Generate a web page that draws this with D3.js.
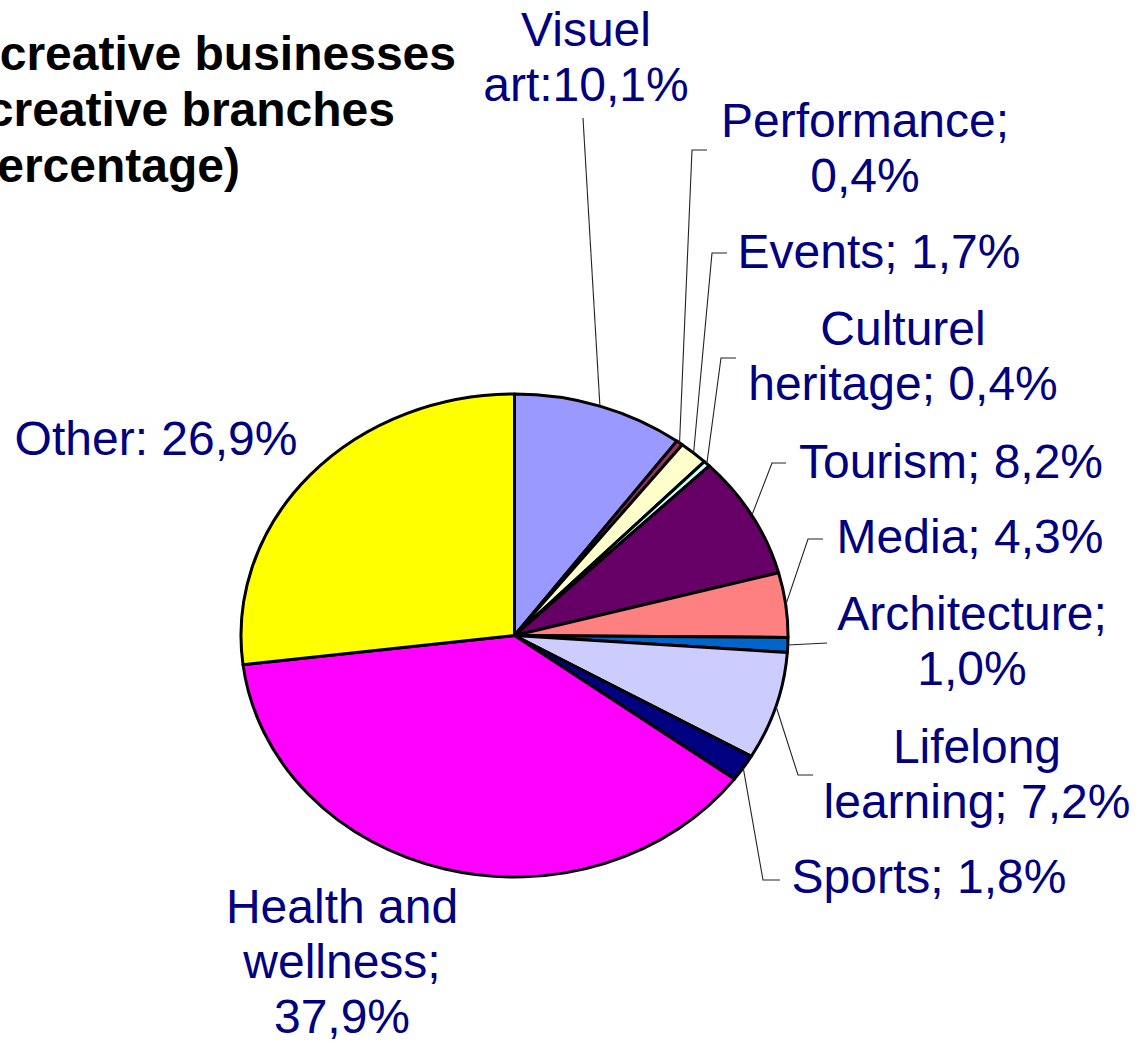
<!DOCTYPE html>
<html>
<head>
<meta charset="utf-8">
<script src="https://cdn.jsdelivr.net/npm/d3@7"></script>
<style>
  html, body { margin: 0; padding: 0; background: #fff; }
  svg { display: block; }
</style>
</head>
<body>
<svg id="chart" width="1140" height="1043"></svg>
<script>
// Creative branches and their share of creative businesses (%)
const categories = [
  "Visuel art", "Performance", "Events", "Culturel heritage", "Tourism",
  "Media", "Architecture", "Lifelong learning", "Sports",
  "Health and wellness", "Other"
];
const shares = [10.1, 0.4, 1.7, 0.4, 8.2, 4.3, 1.0, 7.2, 1.8, 37.9, 26.9];
const sliceColors = [
  "#9999FF", "#993366", "#FFFFCC", "#CCFFFF", "#660066",
  "#FF8080", "#0066CC", "#CCCCFF", "#000080", "#FF00FF", "#FFFF00"
];
// Label text per slice; {v} is replaced by the formatted share
const labelTemplates = [
  ["Visuel", "art:{v}"],
  ["Performance;", "{v}"],
  ["Events; {v}"],
  ["Culturel", "heritage; {v}"],
  ["Tourism; {v}"],
  ["Media; {v}"],
  ["Architecture;", "{v}"],
  ["Lifelong", "learning; {v}"],
  ["Sports; {v}"],
  ["Health and", "wellness;", "{v}"],
  ["Other: {v}"]
];
const titleLines = ["creative businesses", "creative branches", "(percentage)"];

// Layout: label centre x, first baseline y, and leader-line bends
const labelLayout = [
  { x: 586, y: 46,  leader: [[583, 118]] },
  { x: 865, y: 137, leader: [[692, 150], [707, 150]] },
  { x: 879, y: 268, leader: [[712, 253], [727, 253]] },
  { x: 903, y: 345, leader: [[721, 358], [736, 358]] },
  { x: 951, y: 478, leader: [[772, 463], [786, 463]] },
  { x: 970, y: 553, leader: [[808, 539], [823, 539]] },
  { x: 972, y: 630, leader: [[827, 643]] },
  { x: 977, y: 763, leader: [[798, 775], [813, 775]] },
  { x: 929, y: 893, leader: [[763, 880], [780, 880]] },
  { x: 342, y: 923, leader: null },
  { x: 156, y: 455, leader: null }
];
const titleRightEdges = [456, 395, 240];

const svg = d3.select("#chart");
const cx = 514.5, cy = 635.5, rx = 273.5, ry = 241.5;
const lineHeight = 55;
const fontFamily = "'Liberation Sans', Arial, Helvetica, sans-serif";

// Unit-circle coordinates mapped onto the elliptical pie
const sx = d3.scaleLinear().domain([-1, 1]).range([cx - rx, cx + rx]);
const sy = d3.scaleLinear().domain([-1, 1]).range([cy - ry, cy + ry]);
const pt = a => [sx(Math.sin(a)), sy(-Math.cos(a))];

const fmt = v => d3.format(".1f")(v).replace(".", ",") + "%";

const data = categories.map((c, i) => ({ name: c, value: shares[i], i }));
const arcs = d3.pie().sort(null).value(d => d.value)(data);

function slicePath(a) {
  const p0 = pt(a.startAngle), p1 = pt(a.endAngle);
  const large = (a.endAngle - a.startAngle) > Math.PI ? 1 : 0;
  return `M${cx},${cy}L${p0[0]},${p0[1]}A${rx},${ry} 0 ${large} 1 ${p1[0]},${p1[1]}Z`;
}

// Title (runs off the left edge)
svg.append("g")
  .selectAll("text")
  .data(titleLines)
  .join("text")
  .attr("x", (d, i) => titleRightEdges[i])
  .attr("y", (d, i) => 70 + i * 56)
  .attr("text-anchor", "end")
  .attr("font-family", fontFamily)
  .attr("font-weight", "bold")
  .attr("font-size", 48)
  .attr("fill", "#000")
  .text(d => d);

// Slices
svg.append("g")
  .selectAll("path")
  .data(arcs)
  .join("path")
  .attr("d", slicePath)
  .attr("fill", d => sliceColors[d.data.i])
  .attr("stroke", "#000")
  .attr("stroke-width", 3)
  .attr("stroke-linejoin", "round");

// Leader lines from the slice edge at its mid angle
const lineGen = d3.line();
svg.append("g")
  .selectAll("path")
  .data(arcs.filter(a => labelLayout[a.data.i].leader))
  .join("path")
  .attr("d", a => {
    const mid = (a.startAngle + a.endAngle) / 2;
    return lineGen([pt(mid), ...labelLayout[a.data.i].leader]);
  })
  .attr("fill", "none")
  .attr("stroke", "#222")
  .attr("stroke-width", 1.1);

// Labels
const labels = svg.append("g")
  .selectAll("text")
  .data(arcs)
  .join("text")
  .attr("text-anchor", "middle")
  .attr("font-family", fontFamily)
  .attr("font-size", 48)
  .attr("fill", "#000080");

labels.each(function (a) {
  const lay = labelLayout[a.data.i];
  const lines = labelTemplates[a.data.i].map(t => t.replace("{v}", fmt(a.data.value)));
  d3.select(this)
    .selectAll("tspan")
    .data(lines)
    .join("tspan")
    .attr("x", lay.x)
    .attr("y", (d, k) => lay.y + k * lineHeight)
    .text(d => d);
});
</script>
</body>
</html>
